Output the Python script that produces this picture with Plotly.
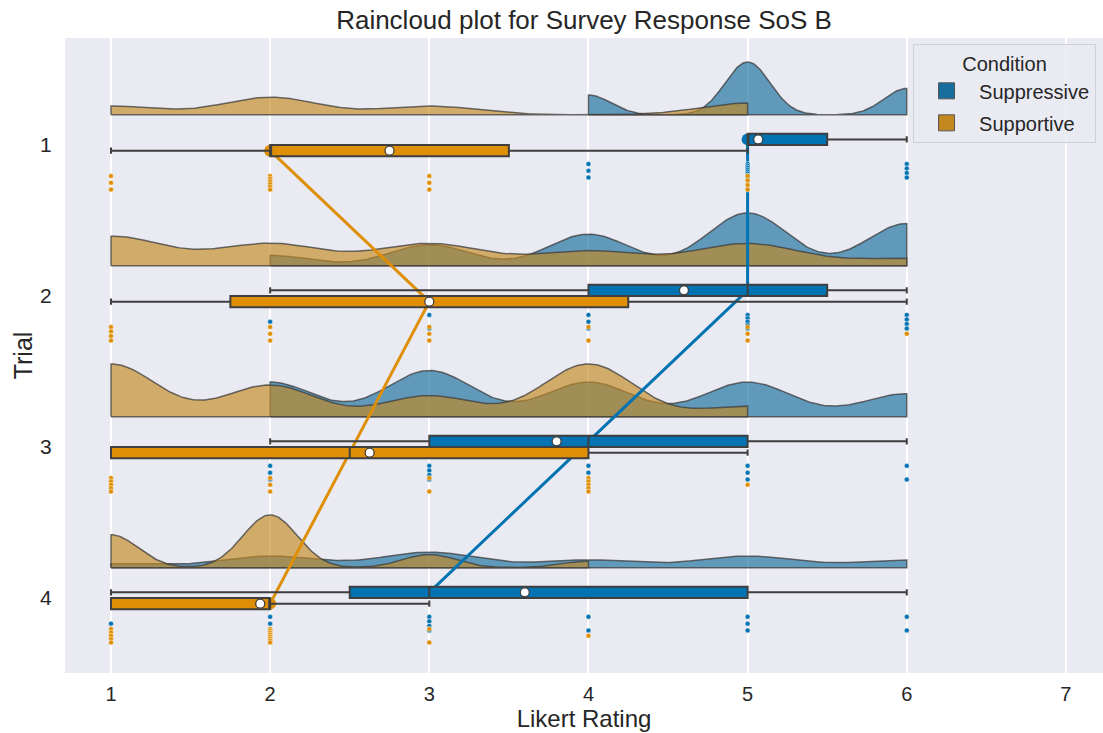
import numpy as np
import plotly.graph_objects as go

# ---------------- data ----------------
trials = [1, 2, 3, 4]
ratings = [1, 2, 3, 4, 5, 6]
x_tick_values = [1, 2, 3, 4, 5, 6, 7]
conditions = ["Suppressive", "Supportive"]

# number of responses at each Likert rating (1..6), one row per trial
suppressive_counts = [
    [0, 0, 0, 3, 8, 4],
    [0, 1, 2, 3, 5, 4],
    [0, 3, 4, 3, 3, 2],
    [1, 3, 4, 2, 3, 2],
]
supportive_counts = [
    [3, 6, 3, 0, 4, 0],
    [4, 3, 3, 2, 3, 1],
    [5, 3, 2, 5, 1, 0],
    [5, 8, 2, 1, 0, 0],
]

# ---------------- styles ----------------
box_colors = {"Suppressive": "#0173B2", "Supportive": "#DE8F05"}
cloud_colors = {"Suppressive": (23, 109, 156), "Supportive": (195, 136, 32)}
edge_gray = "#3f3f3f"
FONT = "Liberation Sans, Arial, sans-serif"
TEXT = "#262626"

CLOUD_BASE = 0.2      # cloud baseline distance above trial centre
CLOUD_HALF = 0.35     # max cloud height
BOX_OFF = 0.0375
BOX_W = 0.075
RAIN_OFF = {"Suppressive": 0.17, "Supportive": 0.25}
RAIN_SPREAD = 0.045
side = {"Suppressive": -1, "Supportive": 1}

data = {
    "Suppressive": [np.repeat(ratings, c).astype(float) for c in suppressive_counts],
    "Supportive": [np.repeat(ratings, c).astype(float) for c in supportive_counts],
}

X_RANGE = [0.711, 7.233]
Y_RANGE = [4.497, 0.291]


def kde(vals, grid, factor=0.2):
    bw = factor * np.std(vals, ddof=1)
    z = (grid[:, None] - vals[None, :]) / bw
    return np.exp(-0.5 * z ** 2).sum(axis=1) / (len(vals) * bw * np.sqrt(2 * np.pi))


fig = go.Figure()

# ---------- clouds (half violins) ----------
for ti, t in enumerate(trials):
    dens = {}
    grids = {}
    for cond in conditions:
        v = data[cond][ti]
        g = np.linspace(v.min(), v.max(), 300)
        grids[cond] = g
        dens[cond] = kde(v, g)
    m = max(d.max() for d in dens.values())
    base = t - CLOUD_BASE
    for cond in conditions:
        g = grids[cond]
        h = dens[cond] / m * CLOUD_HALF
        xs = np.concatenate([[g[0]], g, [g[-1]], g[::-1]])
        ys = np.concatenate([[base], base - h, [base], np.full(len(g), base)])
        r, gg, b = cloud_colors[cond]
        fig.add_trace(go.Scatter(
            x=xs, y=ys, mode="lines", fill="toself",
            fillcolor=f"rgba({r},{gg},{b},0.65)",
            line=dict(color="rgba(60,60,60,0.75)", width=1.5),
            hoverinfo="skip", showlegend=False))

# ---------- point plot of medians (under the boxes) ----------
for cond in conditions:
    med = [float(np.median(v)) for v in data[cond]]
    ys = [t + side[cond] * BOX_OFF for t in trials]
    fig.add_trace(go.Scatter(
        x=med, y=ys, mode="lines+markers",
        line=dict(color=box_colors[cond], width=3),
        marker=dict(size=12, color=box_colors[cond]),
        hoverinfo="skip", showlegend=False))

# ---------- boxes (overlay axes so they sit above the lines) ----------
for cond in conditions:
    q1s, meds, q3s, lfs, ufs, pos = [], [], [], [], [], []
    for ti, t in enumerate(trials):
        v = data[cond][ti]
        q1, md, q3 = np.percentile(v, [25, 50, 75])
        iqr = q3 - q1
        lf = v[v >= q1 - 1.5 * iqr].min()
        uf = v[v <= q3 + 1.5 * iqr].max()
        q1s.append(q1); meds.append(md); q3s.append(q3)
        lfs.append(lf); ufs.append(uf)
        pos.append(t + side[cond] * BOX_OFF)
    fig.add_trace(go.Box(
        y=pos, q1=q1s, median=meds, q3=q3s, lowerfence=lfs, upperfence=ufs,
        orientation="h", width=BOX_W, boxpoints=False,
        fillcolor=box_colors[cond], line=dict(color=edge_gray, width=2),
        whiskerwidth=0.55, hoverinfo="skip", showlegend=False,
        xaxis="x2", yaxis="y2"))

# ---------- means ----------
for cond in conditions:
    means = [float(np.mean(v)) for v in data[cond]]
    ys = [t + side[cond] * BOX_OFF for t in trials]
    fig.add_trace(go.Scatter(
        x=means, y=ys, mode="markers",
        marker=dict(size=9, color="white", line=dict(color=edge_gray, width=1.3)),
        hoverinfo="skip", showlegend=False, xaxis="x2", yaxis="y2"))

# ---------- rain ----------
for cond in conditions:
    xs, ys = [], []
    for ti, t in enumerate(trials):
        v = data[cond][ti]
        for val in np.unique(v):
            n = int((v == val).sum())
            for k in range(n):
                off = 0.0 if n == 1 else RAIN_SPREAD * (2 * k / (n - 1) - 1)
                xs.append(val)
                ys.append(t + RAIN_OFF[cond] + off)
    fig.add_trace(go.Scatter(
        x=xs, y=ys, mode="markers",
        marker=dict(size=5, color=box_colors[cond], line=dict(color="white", width=0.5)),
        hoverinfo="skip", showlegend=False, xaxis="x2", yaxis="y2"))

# ---------- legend entries ----------
for cond in conditions:
    r, g, b = cloud_colors[cond]
    fig.add_trace(go.Scatter(
        x=[None], y=[None], mode="markers", name=cond, legendgroup=cond,
        marker=dict(symbol="square", size=16, color=f"rgb({r},{g},{b})",
                    line=dict(color="#555555", width=1)),
        xaxis="x2", yaxis="y2"))

fig.update_layout(
    width=1103, height=733,
    margin=dict(l=65, r=0, t=38, b=60),
    paper_bgcolor="white", plot_bgcolor="#EAEAF2",
    font=dict(family=FONT, color=TEXT, size=20),
    title=dict(text="Raincloud plot for Survey Response SoS B",
               x=0.5, xref="paper", xanchor="center",
               y=1 - 20 / 733, yref="container", yanchor="middle",
               font=dict(size=26, color=TEXT)),
    xaxis=dict(range=X_RANGE, tickvals=x_tick_values, showgrid=True,
               gridcolor="white", gridwidth=1.5, zeroline=False, showline=False,
               ticks="outside", ticklen=3, tickcolor="rgba(0,0,0,0)",
               tickfont=dict(size=20), automargin=False,
               title=dict(text="Likert Rating", font=dict(size=24), standoff=2)),
    yaxis=dict(range=Y_RANGE, tickvals=trials, ticktext=[str(t) for t in trials],
               showgrid=False, zeroline=False, showline=False,
               ticks="outside", ticklen=8, tickcolor="rgba(0,0,0,0)",
               tickfont=dict(size=21), automargin=False,
               title=dict(text="Trial", font=dict(size=25), standoff=0)),
    xaxis2=dict(range=X_RANGE, overlaying="x", anchor="y2", visible=False),
    yaxis2=dict(range=Y_RANGE, overlaying="y", anchor="x2", visible=False),
    legend=dict(title=dict(text="Condition", side="top center", font=dict(size=20)),
                x=0.817, y=0.99, xanchor="left", yanchor="top",
                traceorder="grouped", tracegroupgap=3,
                bgcolor="rgba(234,234,242,0.85)", bordercolor="#d0d0d8", borderwidth=1,
                font=dict(size=20), itemwidth=55),
)

fig.write_html("out.html")
